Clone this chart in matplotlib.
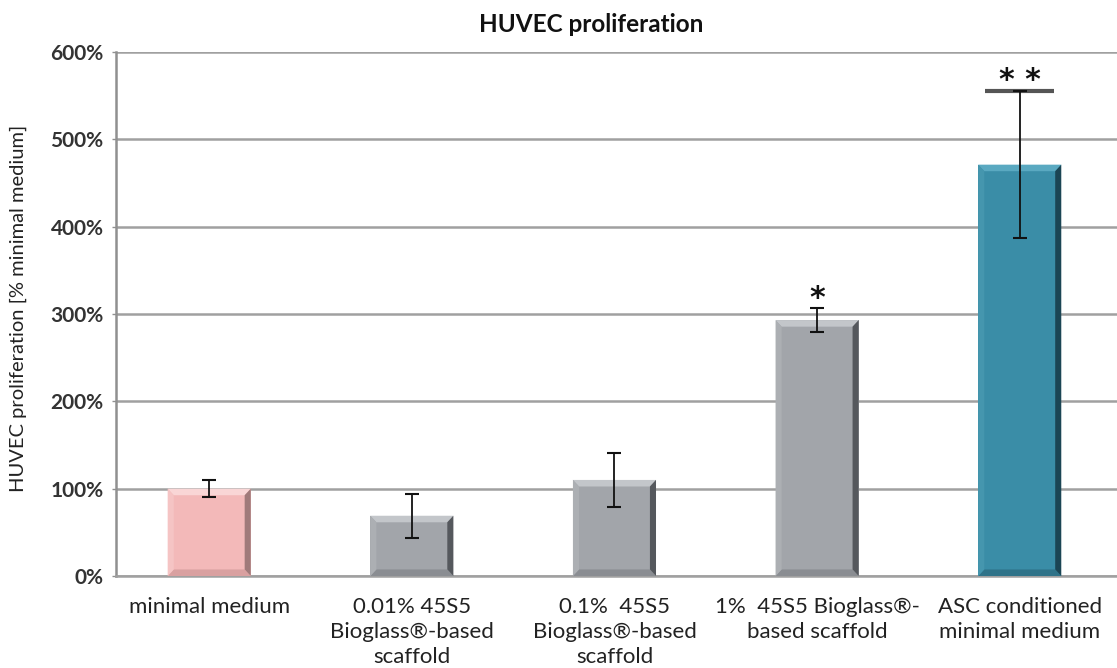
import matplotlib
matplotlib.use("Agg")
import matplotlib.pyplot as plt
from matplotlib.patches import Polygon
from matplotlib.ticker import FuncFormatter

categories = [
    "minimal medium",
    "0.01% 45S5\nBioglass®-based\nscaffold",
    "0.1%  45S5\nBioglass®-based\nscaffold",
    "1%  45S5 Bioglass®-\nbased scaffold",
    "ASC conditioned\nminimal medium",
]
values = [100, 69, 110, 293, 471]
errors = [9.5, 25, 31, 14, 84]
significance = ["", "", "", "*", "* *"]
yticks = [0, 100, 200, 300, 400, 500, 600]

face_colors = ["#f3b9b9", "#a2a5aa", "#a2a5aa", "#a2a5aa", "#3a8da7"]
top_colors = ["#f9d6d6", "#c3c6ca", "#c3c6ca", "#c3c6ca", "#5aa9c1"]
bottom_colors = ["#d9a0a0", "#8a8d92", "#8a8d92", "#8a8d92", "#2f7389"]
right_colors = ["#a07a7a", "#55585d", "#55585d", "#55585d", "#1b4554"]
left_colors = ["#f5c4c4", "#acafb3", "#acafb3", "#acafb3", "#4596ae"]

plt.rcParams['font.family'] = ['Lato', 'DejaVu Sans']

fig = plt.figure(figsize=(11.17, 6.68), dpi=100)
ax = fig.add_axes([116/1117, 92/668, 1 - 116/1117, (576-52)/668])

xs = list(range(len(categories)))
bw = 0.41
bars = ax.bar(xs, values, width=bw, color=face_colors, zorder=3, linewidth=0)

# bevel effect derived from each bar's geometry
bx, by = 0.03, 7.5
for rect, tc, bc, rc, lc in zip(bars, top_colors, bottom_colors, right_colors, left_colors):
    x0, y0 = rect.get_x(), rect.get_y()
    w, h = rect.get_width(), rect.get_height()
    x1, y1 = x0 + w, y0 + h
    ax.add_patch(Polygon([(x0, y1), (x1, y1), (x1 - bx, y1 - by), (x0 + bx, y1 - by)],
                         closed=True, facecolor=tc, edgecolor='none', zorder=4))
    ax.add_patch(Polygon([(x0, y0), (x1, y0), (x1 - bx, y0 + by), (x0 + bx, y0 + by)],
                         closed=True, facecolor=bc, edgecolor='none', zorder=4))
    ax.add_patch(Polygon([(x1, y0), (x1, y1), (x1 - bx, y1 - by), (x1 - bx, y0 + by)],
                         closed=True, facecolor=rc, edgecolor='none', zorder=4))
    ax.add_patch(Polygon([(x0, y0), (x0, y1), (x0 + bx, y1 - by), (x0 + bx, y0 + by)],
                         closed=True, facecolor=lc, edgecolor='none', zorder=4))

ax.errorbar(xs, values, yerr=errors, fmt='none', ecolor='#111111', elinewidth=1.3,
            capsize=5, capthick=1.5, zorder=6)

for x, v, e, s in zip(xs, values, errors, significance):
    if s:
        if len(s) > 1:
            ax.hlines(v + e, x - 0.17, x + 0.17, colors='#555555', linewidth=3, zorder=5)
            off = -3
        else:
            off = -3.5
        ax.annotate(s, (x, v + e), xytext=(0, off), textcoords='offset points',
                    ha='center', va='bottom', fontsize=21.5, fontweight='bold',
                    color='#111111', family=['DejaVu Sans'], zorder=7)

ax.set_ylim(0, 600)
ax.set_xlim(-0.46, 4.48)
ax.set_yticks(yticks)
ax.yaxis.set_major_formatter(FuncFormatter(lambda v, p: f"{v:.0f}%"))
ax.grid(axis='y', color='#a0a0a0', linewidth=1.8, zorder=0)
ax.set_axisbelow(True)

for sp in ['top', 'right']:
    ax.spines[sp].set_visible(False)
ax.spines['left'].set_color('#909090')
ax.spines['left'].set_linewidth(1.8)
ax.spines['bottom'].set_color('#a0a0a0')
ax.spines['bottom'].set_linewidth(1.8)

ax.tick_params(axis='y', length=3, width=1, color='#909090', pad=6,
               labelsize=15, labelcolor='#333333')
for lbl in ax.get_yticklabels():
    lbl.set_fontweight('bold')
ax.set_xticks(xs)
ax.set_xticklabels(categories, fontsize=16, color='#222222', linespacing=1.33)
ax.tick_params(axis='x', length=0, pad=15)

ax.set_ylabel("HUVEC proliferation [% minimal medium]", fontsize=14.5,
              color='#222222', va='center')
ax.yaxis.set_label_coords(-0.098, 0.511)
fig.text(591/1117, 1 - 25/668, "HUVEC proliferation", ha='center', va='center',
         fontsize=17.5, fontweight='bold', color='#111111')

fig.savefig("out.png", dpi=100)
